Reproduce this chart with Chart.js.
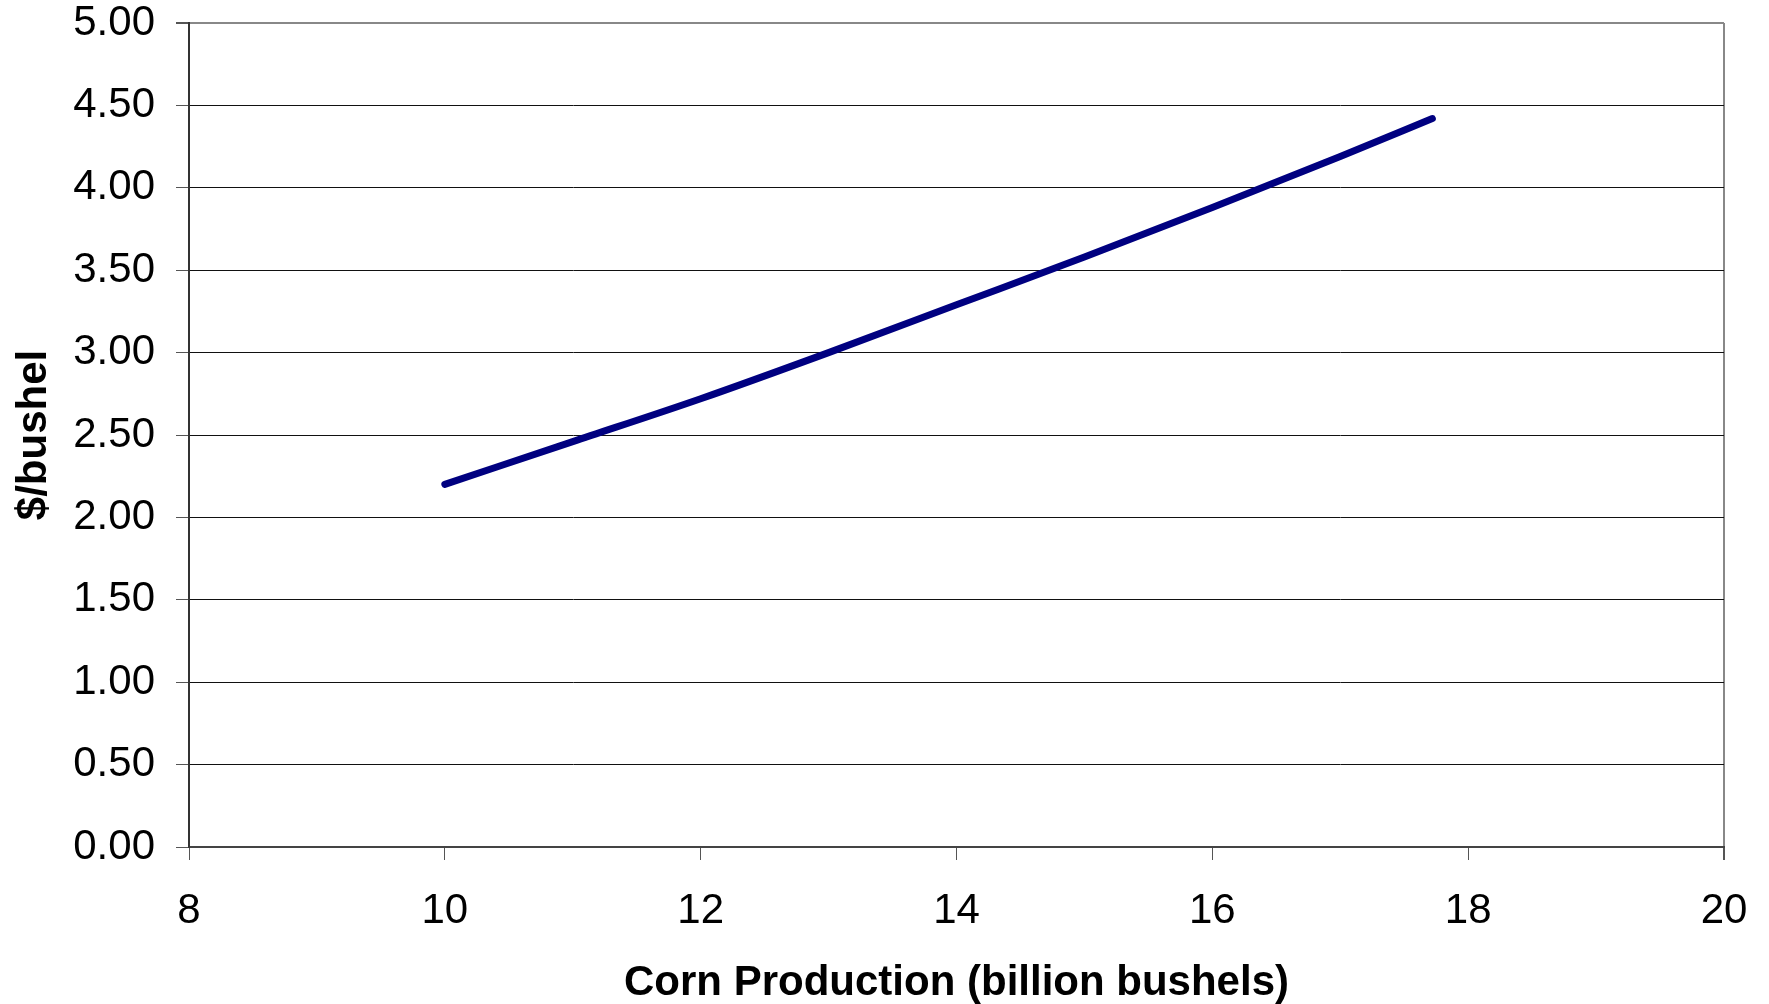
<!DOCTYPE html>
<html>
<head>
<meta charset="utf-8">
<script src="https://cdn.jsdelivr.net/npm/chart.js"></script>
<style>
  html, body { margin: 0; padding: 0; background: #fff; }
  #wrap { width: 1769px; height: 1004px; }
</style>
</head>
<body>
<div id="wrap"><canvas id="chart" width="1769" height="1004"></canvas></div>
<script>
// corn production (billion bushels) vs price ($/bushel)
const production = [10, 11, 12, 13, 14, 15, 16, 17, 17.72];
const price = [2.20, 2.46, 2.72, 3.00, 3.29, 3.58, 3.88, 4.19, 4.42];

const xTitle = 'Corn Production (billion bushels)';
const yTitle = '$/bushel';

const points = production.map((x, i) => ({ x: x, y: price[i] }));

const ctx = document.getElementById('chart').getContext('2d');
Chart.defaults.font.family = '"Liberation Sans", Arial, sans-serif';
Chart.defaults.color = '#000';

new Chart(ctx, {
    type: 'line',
    data: {
        datasets: [{
            label: 'Price',
            data: points,
            borderColor: '#000080',
            backgroundColor: '#000080',
            borderWidth: 7,
            borderCapStyle: 'round',
            borderJoinStyle: 'round',
            pointRadius: 0,
            cubicInterpolationMode: 'monotone',
            fill: false
        }]
    },
    options: {
        responsive: false,
        animation: false,
        layout: { padding: 0 },
        plugins: {
            legend: { display: false },
            tooltip: { enabled: false }
        },
        scales: {
            x: {
                type: 'linear',
                min: 8,
                max: 20,
                ticks: { stepSize: 2, padding: 26, font: { size: 42 } },
                grid: {
                    color: c => c.tick && c.tick.value === 20 ? '#888' : 'rgba(0,0,0,0)',
                    lineWidth: c => c.tick && c.tick.value === 20 ? 2 : 1,
                    tickColor: '#555',
                    tickLength: 13
                },
                border: { color: '#444', width: 2 },
                title: {
                    display: true,
                    text: xTitle,
                    font: { size: 42, weight: 'bold', lineHeight: 1 },
                    padding: { top: 0, bottom: 0 }
                },
                afterFit: s => {
                    s.height = 157;
                    s.paddingLeft = 0;
                    s.paddingRight = 45;
                }
            },
            y: {
                min: 0,
                max: 5,
                ticks: {
                    stepSize: 0.5,
                    padding: 21,
                    font: { size: 42 },
                    callback: v => Number(v).toFixed(2)
                },
                grid: {
                    color: c => c.tick && c.tick.value === 5 ? '#888' : '#111',
                    lineWidth: c => c.tick && c.tick.value === 5 ? 2 : 1,
                    tickColor: '#555',
                    tickLength: 13
                },
                border: { color: '#333', width: 2 },
                title: {
                    display: true,
                    text: yTitle,
                    font: { size: 42, weight: 'bold' },
                    padding: { top: 9, bottom: 0 }
                },
                afterFit: s => {
                    s.width = 189;
                    s.paddingTop = 23;
                    s.paddingBottom = 0;
                }
            }
        }
    }
});
</script>
</body>
</html>
